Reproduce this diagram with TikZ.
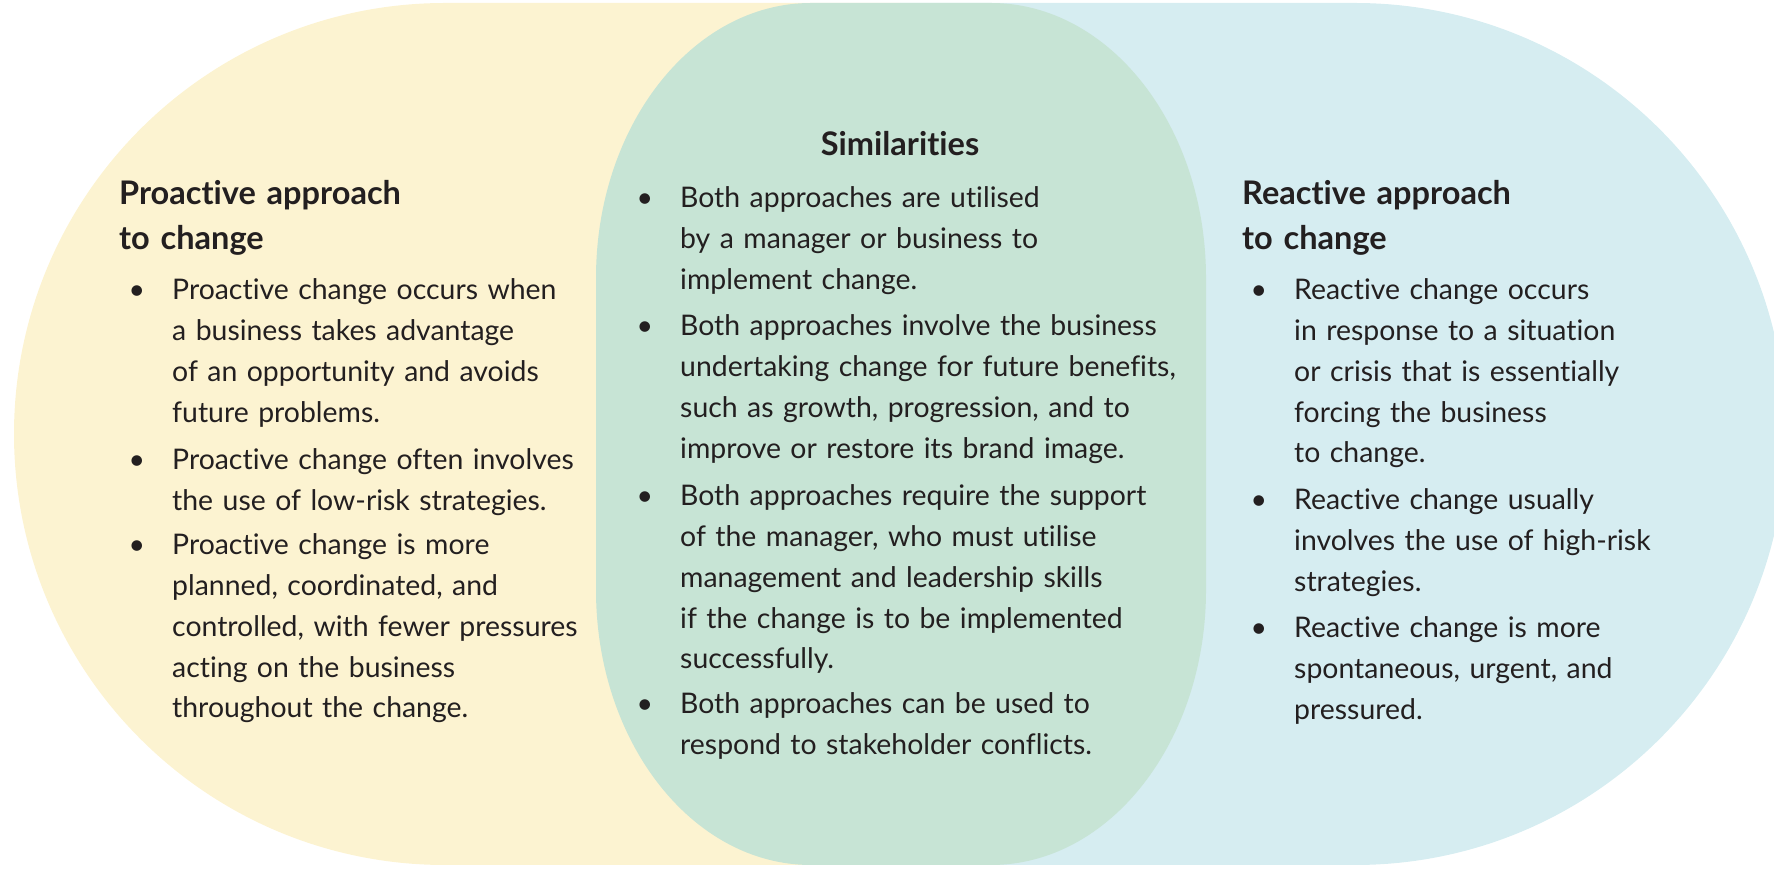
\documentclass[tikz,border=0pt]{standalone}
\usepackage{fontspec}
\setmainfont{Lato}[Ligatures=NoCommon]
\definecolor{proyellow}{HTML}{FCF3D1}
\definecolor{simgreen}{HTML}{C7E4D5}
\definecolor{reblue}{HTML}{D6EDF1}
\definecolor{inkgray}{HTML}{231F20}
\newcommand{\bul}{\makebox[0pt][r]{\textbullet\hspace{27pt}}}
\begin{document}
\begin{tikzpicture}[x=1pt,y=1pt,
  head/.style={anchor=base west,inner sep=0,text width=360pt,align=left,
    font=\fontsize{32.5}{45}\selectfont\bfseries,text=inkgray},
  item/.style={anchor=base west,inner sep=0,text width=410pt,align=left,
    font=\fontsize{28.4}{40.7}\selectfont,text=inkgray}]
  \useasboundingbox (0,0) rectangle (1774,872);
  \clip (0,0) rectangle (1774,872);
  \fill[proyellow] (900,869) -- (445,869) arc[start angle=90,end angle=270,radius=431] -- (900,7) -- cycle;
  \fill[reblue] (900,869) -- (1355,869) arc[start angle=90,end angle=-90,radius=431] -- (900,7) -- cycle;
  \fill[simgreen] (811,869) -- (991,869) arc[start angle=90,end angle=0,x radius=215,y radius=275]
    -- (1206,282) arc[start angle=0,end angle=-90,x radius=215,y radius=275]
    -- (811,7) arc[start angle=270,end angle=180,x radius=215,y radius=275]
    -- (596,594) arc[start angle=180,end angle=90,x radius=215,y radius=275] -- cycle;

  \node[head] (prohead) at (119,667) {Proactive approach\\to change};
  \node[item] (pro1) at (172,572) {\bul Proactive change occurs when\\a business takes advantage\\of an opportunity and avoids\\future problems.};
  \node[item] (pro2) at (172,402) {\bul Proactive change often involves\\the use of low-risk strategies.};
  \node[item] (pro3) at (172,317) {\bul Proactive change is more\\planned, coordinated, and\\controlled, with fewer pressures\\acting on the business\\throughout the change.};

  \node[head,anchor=base,align=center] (simhead) at (900,716) {Similarities};
  \node[item,text width=500pt] (sim1) at (680,664) {\bul Both approaches are utilised\\by a manager or business to\\implement change.};
  \node[item,text width=500pt] (sim2) at (680,536) {\bul Both approaches involve the business\\undertaking change for future benefits,\\such as growth, progression, and to\\improve or restore its brand image.};
  \node[item,text width=500pt] (sim3) at (680,366) {\bul Both approaches require the support\\of the manager, who must utilise\\management and leadership skills\\if the change is to be implemented\\successfully.};
  \node[item,text width=500pt] (sim4) at (680,158) {\bul Both approaches can be used to\\respond to stakeholder conflicts.};

  \node[head] (rehead) at (1242,667) {Reactive approach\\to change};
  \node[item,text width=420pt] (re1) at (1294,572) {\bul Reactive change occurs\\in response to a situation\\or crisis that is essentially\\forcing the business\\to change.};
  \node[item,text width=420pt] (re2) at (1294,362) {\bul Reactive change usually\\involves the use of high-risk\\strategies.};
  \node[item,text width=420pt] (re3) at (1294,234) {\bul Reactive change is more\\spontaneous, urgent, and\\pressured.};
\end{tikzpicture}
\end{document}
